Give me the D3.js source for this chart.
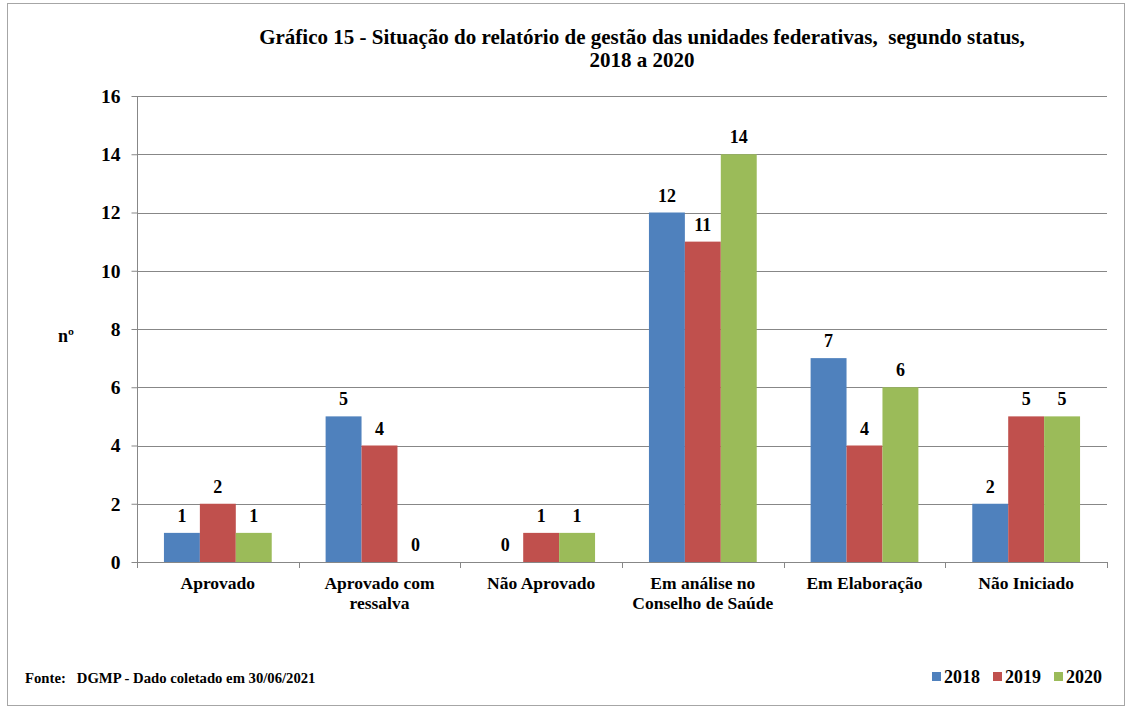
<!DOCTYPE html>
<html>
<head>
<meta charset="utf-8">
<script src="https://cdn.jsdelivr.net/npm/d3@7"></script>
<style>
  html, body { margin: 0; padding: 0; background: #fff; }
  svg text { font-family: "Liberation Serif", "Times New Roman", serif; font-weight: bold; fill: #000; }
</style>
</head>
<body>
<div id="chart"></div>
<script>
const categories = [
  ["Aprovado"],
  ["Aprovado com", "ressalva"],
  ["Não Aprovado"],
  ["Em análise no", "Conselho de Saúde"],
  ["Em Elaboração"],
  ["Não Iniciado"]
];
const years = ["2018", "2019", "2020"];
const values2018 = [1, 5, 0, 12, 7, 2];
const values2019 = [2, 4, 1, 11, 4, 5];
const values2020 = [1, 0, 1, 14, 6, 5];
const yTicks = [0, 2, 4, 6, 8, 10, 12, 14, 16];
const colors = ["#4F81BD", "#C0504D", "#9BBB59"];

const width = 1127, height = 708;
const plot = { left: 137, right: 1107, top: 96, bottom: 562 };

const series = [values2018, values2019, values2020];
const rows = categories.map((c, i) => ({ key: i, label: c, vals: series.map(s => s[i]) }));

const svg = d3.select("#chart").append("svg")
  .attr("width", width)
  .attr("height", height);

// outer frame
svg.append("rect")
  .attr("x", 7.5).attr("y", 3.5)
  .attr("width", 1117).attr("height", 702)
  .attr("fill", "#fff")
  .attr("stroke", "#a6a6a6");

// gap 150% of a bar width: group = 3 bars, gap = 1.5 bars
const x0 = d3.scaleBand()
  .domain(rows.map(d => d.key))
  .range([plot.left, plot.right])
  .paddingInner(1 / 3)
  .paddingOuter(1 / 6);

const x1 = d3.scaleBand()
  .domain(years)
  .range([0, x0.bandwidth()]);

const y = d3.scaleLinear()
  .domain([0, 16])
  .range([plot.bottom, plot.top]);

// gridlines
svg.append("g")
  .selectAll("line")
  .data(yTicks.filter(t => t > 0))
  .join("line")
  .attr("x1", plot.left).attr("x2", plot.right)
  .attr("y1", d => Math.round(y(d)) + 0.5)
  .attr("y2", d => Math.round(y(d)) + 0.5)
  .attr("stroke", "#878787")
  .attr("stroke-width", 1);

// bars
const groups = svg.append("g")
  .selectAll("g")
  .data(rows)
  .join("g")
  .attr("transform", d => `translate(${x0(d.key)},0)`);

groups.selectAll("rect")
  .data(d => d.vals.map((v, i) => ({ year: years[i], v, i })))
  .join("rect")
  .attr("x", d => x1(d.year))
  .attr("y", d => y(d.v))
  .attr("width", x1.bandwidth())
  .attr("height", d => y(0) - y(d.v))
  .attr("fill", d => colors[d.i]);

groups.selectAll("text")
  .data(d => d.vals.map((v, i) => ({ year: years[i], v, i })))
  .join("text")
  .attr("x", d => x1(d.year) + x1.bandwidth() / 2)
  .attr("y", d => y(d.v) - 11)
  .attr("text-anchor", "middle")
  .attr("font-size", 18)
  .text(d => d.v);

// y axis
const yAxis = svg.append("g")
  .attr("transform", `translate(${plot.left + 0.5},0)`)
  .call(d3.axisLeft(y).tickValues(yTicks).tickSize(6).tickPadding(11));
yAxis.select(".domain").attr("stroke", "#878787").attr("d", `M0,${plot.top}V${plot.bottom}`);
yAxis.selectAll(".tick line").attr("stroke", "#878787");
yAxis.selectAll(".tick text")
  .attr("font-size", 19.5)
  .attr("font-family", "Liberation Serif, serif")
  .attr("font-weight", "bold")
  .attr("fill", "#000");

// x axis
const bounds = d3.range(rows.length + 1).map(i => plot.left + i * (plot.right - plot.left) / rows.length);
svg.append("line")
  .attr("x1", plot.left).attr("x2", plot.right)
  .attr("y1", plot.bottom + 0.5).attr("y2", plot.bottom + 0.5)
  .attr("stroke", "#878787");
svg.append("g")
  .selectAll("line")
  .data(bounds)
  .join("line")
  .attr("x1", d => Math.round(d) + 0.5).attr("x2", d => Math.round(d) + 0.5)
  .attr("y1", plot.bottom).attr("y2", plot.bottom + 6)
  .attr("stroke", "#878787");

const catLabels = svg.append("g")
  .selectAll("text")
  .data(rows)
  .join("text")
  .attr("x", d => x0(d.key) + x0.bandwidth() / 2)
  .attr("y", 589)
  .attr("text-anchor", "middle")
  .attr("font-size", 17.5);
catLabels.selectAll("tspan")
  .data(d => d.label)
  .join("tspan")
  .attr("x", function () { return d3.select(this.parentNode).attr("x"); })
  .attr("dy", (d, i) => i === 0 ? 0 : 20)
  .text(d => d);

// y label
svg.append("text")
  .attr("x", 66).attr("y", 342)
  .attr("text-anchor", "middle")
  .attr("font-size", 18)
  .text("nº");

// title
svg.append("text")
  .attr("x", 642).attr("y", 44)
  .attr("text-anchor", "middle")
  .attr("font-size", 21)
  .attr("xml:space", "preserve")
  .text("Gráfico 15 - Situação do relatório de gestão das unidades federativas,  segundo status,");
svg.append("text")
  .attr("x", 642).attr("y", 67)
  .attr("text-anchor", "middle")
  .attr("font-size", 21)
  .text("2018 a 2020");

// footer
svg.append("text")
  .attr("x", 25).attr("y", 683)
  .attr("font-size", 14.7)
  .attr("xml:space", "preserve")
  .text("Fonte:   DGMP - Dado coletado em 30/06/2021");

// legend
const legend = svg.append("g")
  .selectAll("g")
  .data(years)
  .join("g")
  .attr("transform", (d, i) => `translate(${932 + i * 61},0)`);
legend.append("rect")
  .attr("x", 0).attr("y", 672)
  .attr("width", 9).attr("height", 9)
  .attr("fill", (d, i) => colors[i]);
legend.append("text")
  .attr("x", 12).attr("y", 683)
  .attr("font-size", 18)
  .text(d => d);
</script>
</body>
</html>
